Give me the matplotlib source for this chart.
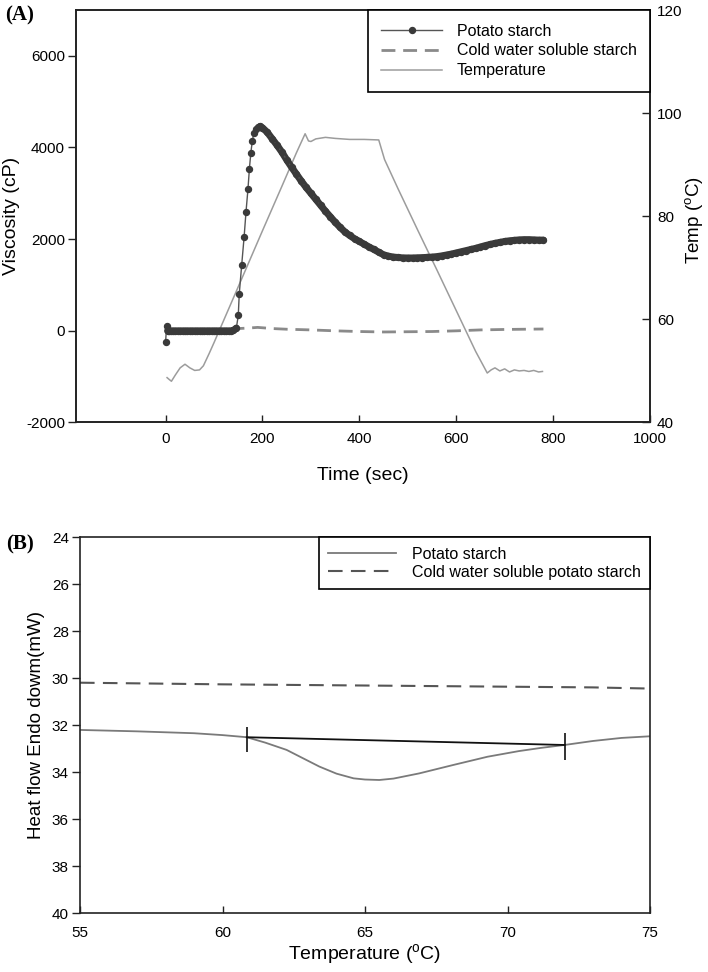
import numpy as np
import matplotlib
matplotlib.use('Agg')
import matplotlib.pyplot as plt
from matplotlib.lines import Line2D

plt.rcParams['font.family'] = ['Liberation Sans', 'DejaVu Sans']
plt.rcParams['mathtext.fontset'] = 'custom'
plt.rcParams['mathtext.rm'] = 'Liberation Sans'
plt.rcParams['axes.unicode_minus'] = False

# ---- (A) RVA: viscosity / temperature vs time ----
potato_time = [0, 2, 4, 8, 12, 16, 20, 25, 30, 35, 40, 45, 50, 55, 60, 65, 70, 75,
               80, 85, 90, 95, 100, 105, 110, 115, 120, 125, 130, 135, 140, 146,
               150, 152, 157, 162, 166, 170, 173, 176, 179, 182, 186, 190, 195,
               200, 210, 220, 230, 240, 250, 260, 270, 280, 290, 300, 310, 320,
               330, 340, 350, 360, 370, 380, 390, 400, 410, 420, 430, 440, 450,
               460, 470, 480, 490, 500, 510, 520, 530, 540, 550, 560, 570, 580,
               590, 600, 610, 620, 630, 640, 650, 660, 670, 680, 690, 700, 710,
               720, 730, 740, 750, 760, 770, 780]
potato_visc = [-240, 110, 0, 0, 0, 0, 0, 0, 0, 0, 0, 0, 0, 0, 0, 0, 0, 0,
               0, 0, 0, 0, 0, 0, 0, 0, 0, 0, 0, 0, 10, 60,
               335, 800, 1430, 2040, 2600, 3090, 3540, 3890, 4140, 4310, 4400, 4450, 4460,
               4430, 4330, 4190, 4050, 3900, 3730, 3570, 3420, 3270, 3130, 3000, 2870, 2740,
               2610, 2490, 2370, 2260, 2160, 2080, 2010, 1950, 1890, 1830, 1775, 1715, 1660,
               1630, 1610, 1600, 1592, 1590, 1590, 1594, 1598, 1603, 1610, 1620, 1635, 1655,
               1675, 1700, 1725, 1750, 1775, 1800, 1830, 1860, 1885, 1910, 1930, 1950, 1965,
               1975, 1985, 1990, 1990, 1985, 1980, 1980]

cold_time = [0, 50, 100, 150, 170, 190, 220, 250, 300, 350, 400, 450, 500, 550, 600, 650, 700, 780]
cold_visc = [0, 0, 0, 50, 60, 75, 50, 35, 20, 0, -15, -25, -20, -15, 0, 20, 30, 40]

temp_time = [3, 8, 12, 20, 30, 40, 50, 60, 70, 78, 90, 100, 130, 160, 200, 240, 270,
             288, 295, 300, 310, 330, 350, 380, 410, 440, 452, 480, 520, 560, 600, 640,
             664, 672, 680, 690, 700, 710, 720, 730, 740, 750, 760, 770, 778]
temp_val = [48.7, 48.3, 48.0, 49.2, 50.6, 51.3, 50.6, 50.1, 50.2, 51.0, 53.4, 55.5, 62.0,
            68.5, 77.2, 85.8, 92.3, 96.0, 94.6, 94.5, 95.0, 95.3, 95.1, 94.9, 94.9, 94.8,
            91.0, 85.3, 77.4, 69.6, 61.7, 53.8, 49.6, 50.2, 50.6, 50.0, 50.4, 49.8, 50.2,
            50.0, 50.1, 49.9, 50.1, 49.8, 49.9]

# ---- (B) DSC: heat flow vs temperature ----
dsc_temp = [55, 57, 59, 60, 60.85, 61.5, 62.25, 62.8, 63.4, 64.0, 64.6, 65.0, 65.5,
            66.0, 66.9, 68.1, 69.3, 70.4, 71.2, 72.0, 73, 74, 75]
dsc_potato = [32.21, 32.27, 32.35, 32.43, 32.52, 32.75, 33.06, 33.4, 33.77, 34.07, 34.27,
              34.32, 34.34, 34.28, 34.06, 33.70, 33.35, 33.11, 32.97, 32.85, 32.68, 32.55, 32.48]
dsc_cold_temp = [55, 60, 65, 70, 73, 75]
dsc_cold = [30.2, 30.27, 30.32, 30.37, 30.4, 30.45]
base_temp = [60.85, 72.0]
base_heat = [32.52, 32.85]
base_tick_lo = [32.08, 32.35]
base_tick_hi = [33.17, 33.49]

W, H = 708, 972
fig = plt.figure(figsize=(W / 100, H / 100), dpi=100)

spine_c = '#222222'
dot_c = '#3a3a3a'


def style_spines(ax):
    for s in ax.spines.values():
        s.set_color(spine_c)
        s.set_linewidth(1.2)


# top panel
ax1 = fig.add_axes([76 / W, 1 - 422.5 / H, (650 - 76) / W, (422.5 - 10) / H])
ax2 = ax1.twinx()
ax1.set_zorder(ax2.get_zorder() + 1)
ax1.patch.set_visible(False)

ax2.plot(temp_time, temp_val, color='#9c9c9c', lw=1.1)
ax1.plot(cold_time, cold_visc, color='#8a8a8a', lw=2.0, dashes=(5, 2.8))

# dense runs of markers in the original merge into a solid band
pt = np.array(potato_time)
pv = np.array(potato_visc)
flat = (pt >= 4) & (pt <= 146)
after = pt >= 195
ax1.plot(pt[flat], pv[flat], color=dot_c, lw=5, solid_capstyle='round')
ax1.plot(pt[after], pv[after], color=dot_c, lw=5, solid_capstyle='round')
ax1.plot(pt, pv, color='#555555', lw=1.0, marker='o', ms=4.3, mfc=dot_c, mec=dot_c)

ax1.set_xlim(-185, 1000)
ax1.set_ylim(-2000, 7000)
ax2.set_ylim(40, 120)
ax1.set_xticks(range(0, 1001, 200))
ax1.set_yticks(range(-2000, 6001, 2000))
ax2.set_yticks(range(40, 121, 20))

ax1.tick_params(axis='y', direction='out', length=6, width=1, labelsize=11, pad=2, colors=spine_c, labelcolor='black')
ax1.tick_params(axis='x', direction='in', length=5, width=1, labelsize=11, pad=7, colors=spine_c, labelcolor='black')
ax2.tick_params(axis='y', direction='in', length=6, width=1, labelsize=11, pad=5, colors=spine_c, labelcolor='black')
style_spines(ax1)
style_spines(ax2)

ax1.set_xlabel('Time (sec)', fontsize=14)
ax1.set_ylabel('Viscosity (cP)', fontsize=14)
ax2.set_ylabel(r'Temp ($^{\mathrm{o}}$C)', fontsize=13.5)
ax1.xaxis.set_label_coords(0.5, -0.108)
ax1.yaxis.set_label_coords(-0.098, 0.5)
ax2.yaxis.set_label_coords(1.058, 0.49)

handles_a = [
    Line2D([], [], color='#555555', lw=1.0, marker='o', ms=4.3, mfc=dot_c, mec=dot_c),
    Line2D([], [], color='#8a8a8a', lw=2.0, dashes=(5, 2.8)),
    Line2D([], [], color='#9c9c9c', lw=1.1),
]
leg = ax1.legend(handles_a, ['Potato starch', 'Cold water soluble starch', 'Temperature'],
                 loc='upper right', bbox_to_anchor=(1, 1), borderaxespad=0, fontsize=11.5,
                 frameon=True, fancybox=False, framealpha=1, edgecolor='black',
                 handlelength=3.8, handletextpad=0.9, labelspacing=0.3, borderpad=0.85,
                 numpoints=1)
leg.get_frame().set_linewidth(1.2)

# bottom panel
ax3 = fig.add_axes([80 / W, 1 - 913 / H, (650 - 80) / W, (913 - 537) / H])
ax3.plot(dsc_temp, dsc_potato, color='#7a7a7a', lw=1.3)
ax3.plot(dsc_cold_temp, dsc_cold, color='#555555', lw=1.5, dashes=(7, 4))
ax3.plot(base_temp, base_heat, color='#111111', lw=1.3)
ax3.vlines(base_temp, base_tick_lo, base_tick_hi, color='#111111', lw=1.2)

ax3.set_xlim(55, 75)
ax3.set_ylim(40, 24)
ax3.set_xticks(range(55, 76, 5))
ax3.set_yticks(range(24, 41, 2))
ax3.tick_params(axis='y', direction='out', length=6, width=1, labelsize=11, pad=2, colors=spine_c, labelcolor='black')
ax3.tick_params(axis='x', direction='in', length=5, width=1, labelsize=11, pad=9, colors=spine_c, labelcolor='black')
style_spines(ax3)
ax3.set_xlabel(r'Temperature ($^{\mathrm{o}}$C)', fontsize=14)
ax3.set_ylabel('Heat flow Endo dowm(mW)', fontsize=13.5)
ax3.xaxis.set_label_coords(0.5, -0.078)
ax3.yaxis.set_label_coords(-0.061, 0.5)

handles_b = [
    Line2D([], [], color='#7a7a7a', lw=1.3),
    Line2D([], [], color='#555555', lw=1.5, dashes=(7, 4)),
]
leg2 = ax3.legend(handles_b, ['Potato starch', 'Cold water soluble potato starch'],
                  loc='upper right', bbox_to_anchor=(1, 1), borderaxespad=0, fontsize=11.5,
                  frameon=True, fancybox=False, framealpha=1, edgecolor='black',
                  handlelength=4.2, handletextpad=1.0, labelspacing=0.2, borderpad=0.6)
leg2.get_frame().set_linewidth(1.2)

fig.text(5 / W, 1 - 15 / H, '(A)', fontsize=15, fontweight='bold',
         family=['Liberation Serif', 'DejaVu Serif'], va='center', ha='left')
fig.text(6 / W, 1 - 544 / H, '(B)', fontsize=15, fontweight='bold',
         family=['Liberation Serif', 'DejaVu Serif'], va='center', ha='left')

fig.savefig('out.png', dpi=100)
